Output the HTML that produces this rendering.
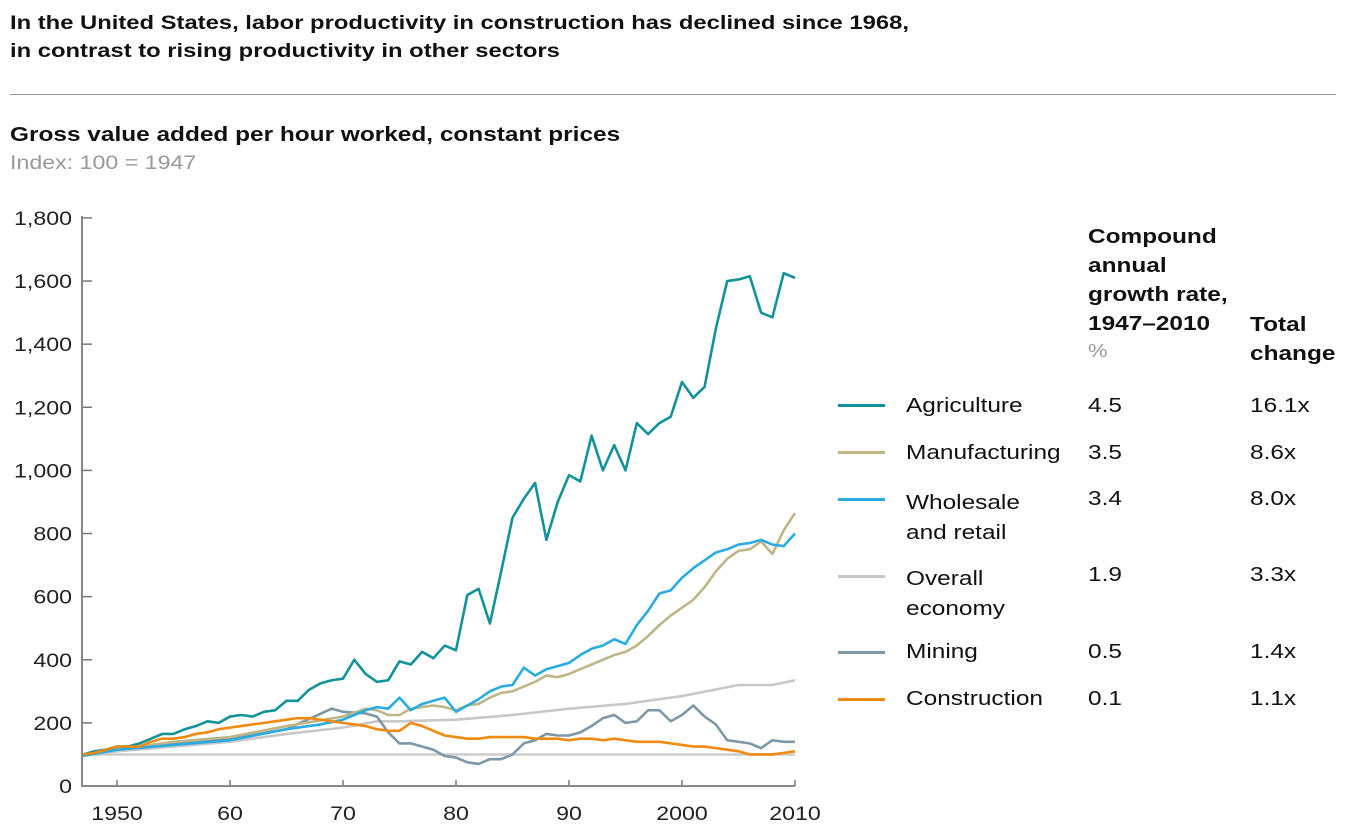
<!DOCTYPE html>
<html><head><meta charset="utf-8"><style>
body{margin:0;width:1350px;height:839px;background:#fff;font-family:"Liberation Sans",Arial,sans-serif;overflow:hidden;position:relative}
.t{position:absolute;white-space:nowrap;transform:scaleX(1.22);transform-origin:0 0}
</style></head><body>
<div class="t" style="left:10px;top:9px;font-size:19.5px;font-weight:bold;line-height:28px;color:#111">In the United States, labor productivity in construction has declined since 1968,<br>in contrast to rising productivity in other sectors</div>
<div style="position:absolute;left:10px;top:94px;width:1326px;height:1px;background:#999"></div>
<div class="t" style="left:10px;top:124px;font-size:20px;font-weight:bold;color:#111">Gross value added per hour worked, constant prices</div>
<div class="t" style="left:10px;top:153px;font-size:19px;color:#999">Index: 100 = 1947</div>
<svg id="chart" width="1350" height="839" style="position:absolute;left:0;top:0"></svg>
<script>
const years=[];for(let y=1947;y<=2010;y++)years.push(y);
const agriculture=[100,110,115,125,125,135,150,165,165,180,190,205,200,220,225,220,235,240,270,270,305,325,335,340,400,355,330,335,395,385,425,405,445,430,605,625,515,680,850,910,960,780,900,985,965,1110,1000,1080,1000,1150,1115,1150,1170,1280,1230,1265,1450,1600,1605,1615,1500,1485,1625,1610];
const manufacturingYears=[1947,1950,1955,1960,1965,1970,1972,1973,1974,1975,1976,1977,1978,1979,1980,1981,1982,1983,1984,1985,1986,1987,1988,1989,1990,1991,1992,1993,1994,1995,1996,1997,1998,1999,2000,2001,2002,2003,2004,2005,2006,2007,2008,2009,2010];
const manufacturing=[100,115,140,155,190,220,245,240,225,225,245,250,255,250,240,255,260,280,295,300,315,330,350,345,355,370,385,400,415,425,445,475,510,540,565,590,630,680,720,745,750,775,735,810,865];
const wholesaleYears=[1947,1950,1955,1960,1965,1968,1970,1971,1972,1973,1974,1975,1976,1977,1978,1979,1980,1981,1982,1983,1984,1985,1986,1987,1988,1989,1990,1991,1992,1993,1994,1995,1996,1997,1998,1999,2000,2001,2002,2003,2004,2005,2006,2007,2008,2009,2010];
const wholesale=[95,115,130,145,180,195,210,225,240,250,245,280,240,260,270,280,235,255,275,300,315,320,375,350,370,380,390,415,435,445,465,450,510,555,610,620,660,690,715,740,750,765,770,780,765,760,800];
const overallYears=[1947,1950,1955,1960,1965,1970,1973,1975,1980,1985,1990,1995,2000,2005,2008,2010];
const overall=[100,110,125,140,165,185,205,205,210,225,245,260,285,320,320,335];
const miningYears=[1947,1950,1955,1960,1965,1969,1970,1972,1973,1974,1975,1976,1977,1978,1979,1980,1981,1982,1983,1984,1985,1986,1987,1988,1989,1990,1991,1992,1993,1994,1995,1996,1997,1998,1999,2000,2001,2002,2003,2004,2005,2006,2007,2008,2009,2010];
const mining=[100,115,135,150,180,245,235,230,220,170,135,135,125,115,95,90,75,70,85,85,100,135,145,165,160,160,170,190,215,225,200,205,240,240,205,225,255,220,195,145,140,135,120,145,140,140];
const construction=[100,105,115,125,125,125,140,150,150,155,165,170,180,185,190,195,200,205,210,215,215,210,205,200,195,190,180,175,175,200,190,175,160,155,150,150,155,155,155,155,150,150,150,145,150,150,145,150,145,140,140,140,135,130,125,125,120,115,110,100,100,100,105,110];
const yTicks=[0,200,400,600,800,1000,1200,1400,1600,1800];
const yTickLabels=["0","200","400","600","800","1,000","1,200","1,400","1,600","1,800"];
const xTicks=[1950,1960,1970,1980,1990,2000,2010];
const xTickLabels=["1950","60","70","80","90","2000","2010"];
const svg=document.getElementById('chart');const NS='http://www.w3.org/2000/svg';
const X=y=>117+(y-1950)*11.3;const Y=v=>786-v*0.3156;
function mk(t,a,parent){const e=document.createElementNS(NS,t);for(const k in a)e.setAttribute(k,a[k]);(parent||svg).appendChild(e);return e;}
function label(x,y,anchor,txt){const g=mk('g',{transform:'translate('+x+','+y+') scale(1.22,1)'});const t=mk('text',{x:0,y:0,'text-anchor':anchor,'font-size':19,fill:'#222'},g);t.textContent=txt;return t;}
yTicks.forEach((v,i)=>{const l=mk('line',{x1:82,x2:92,y1:Y(v),y2:Y(v),stroke:'#777','stroke-width':1.5});


const t=label(72,Y(v)+7,'end',yTickLabels[i]);

});
xTicks.forEach((v,i)=>{const l=mk('line',{x1:X(v),x2:X(v),y1:780,y2:786,stroke:'#777','stroke-width':1.5});


const t=label(X(v),820,'middle',xTickLabels[i]);

});
const base=mk('line',{x1:82,x2:X(2010),y1:Y(100),y2:Y(100),stroke:'#ccc','stroke-width':2.5});


const ya=mk('line',{x1:82,x2:82,y1:216,y2:787,stroke:'#888','stroke-width':2});


const xa=mk('line',{x1:81,x2:X(2010),y1:786,y2:786,stroke:'#888','stroke-width':2});


const series=[
['overall-series',overallYears,overall,'#c8c8c8'],
['mining-series',miningYears,mining,'#7d98a6'],
['manufacturing-series',manufacturingYears,manufacturing,'#bfb688'],
['wholesale-series',wholesaleYears,wholesale,'#2aace2'],
['agriculture-series',years,agriculture,'#13929a'],
['construction-series',years,construction,'#f08a10']];
series.forEach(s=>{const p=mk('polyline',{points:s[1].map((y,i)=>X(y)+','+Y(s[2][i])).join(' '),fill:'none',stroke:s[3],'stroke-width':2.6,'stroke-linejoin':'round'});

});
</script>
<div class="t" style="left:1088px;top:223px;font-size:20px;font-weight:bold;line-height:29px;color:#111">Compound<br>annual<br>growth rate,<br>1947–2010</div>
<div class="t" style="left:1088px;top:341px;font-size:18px;color:#999">%</div>
<div class="t" style="left:1250px;top:311px;font-size:20px;font-weight:bold;line-height:29px;color:#111">Total<br>change</div>
<div style="position:absolute;left:0;top:0;font-size:20px;color:#111">
<div><div style="position:absolute;left:838px;top:404px;width:47px;height:3px;background:#13929a"></div><div class="t" style="left:906px;top:395px">Agriculture</div><div class="t" style="left:1088px;top:395px">4.5</div><div class="t" style="left:1250px;top:395px">16.1x</div></div>
<div><div style="position:absolute;left:838px;top:451px;width:47px;height:3px;background:#bfb688"></div><div class="t" style="left:906px;top:442px">Manufacturing</div><div class="t" style="left:1088px;top:442px">3.5</div><div class="t" style="left:1250px;top:442px">8.6x</div></div>
<div><div style="position:absolute;left:838px;top:498px;width:47px;height:3px;background:#2aace2"></div><div class="t" style="left:906px;top:488px;line-height:30px">Wholesale<br>and retail</div><div class="t" style="left:1088px;top:488px">3.4</div><div class="t" style="left:1250px;top:488px">8.0x</div></div>
<div><div style="position:absolute;left:838px;top:575px;width:47px;height:3px;background:#c8c8c8"></div><div class="t" style="left:906px;top:564px;line-height:30px">Overall<br>economy</div><div class="t" style="left:1088px;top:564px">1.9</div><div class="t" style="left:1250px;top:564px">3.3x</div></div>
<div><div style="position:absolute;left:838px;top:651px;width:47px;height:3px;background:#7d98a6"></div><div class="t" style="left:906px;top:641px">Mining</div><div class="t" style="left:1088px;top:641px">0.5</div><div class="t" style="left:1250px;top:641px">1.4x</div></div>
<div><div style="position:absolute;left:838px;top:698px;width:47px;height:3px;background:#f08a10"></div><div class="t" style="left:906px;top:688px">Construction</div><div class="t" style="left:1088px;top:688px">0.1</div><div class="t" style="left:1250px;top:688px">1.1x</div></div>
</div>
</body></html>
